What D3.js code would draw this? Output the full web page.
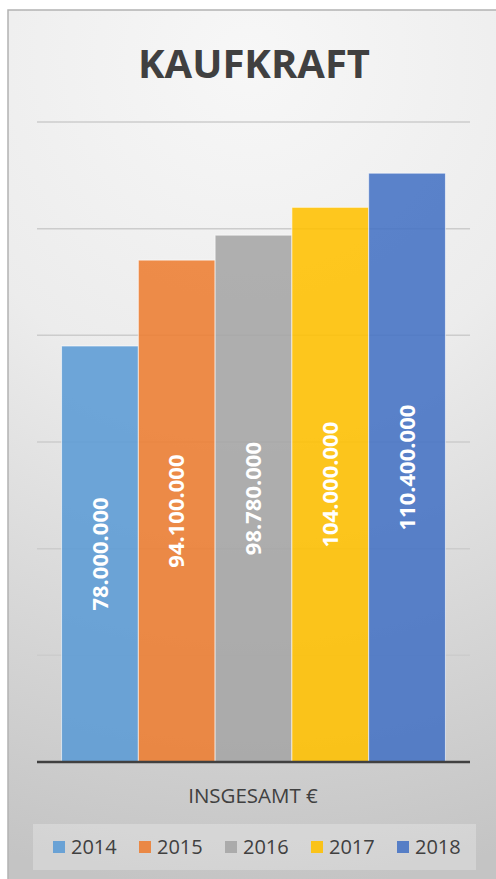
<!DOCTYPE html>
<html lang="de">
<head>
  <meta charset="utf-8">
  <title>Kaufkraft</title>
  <script src="https://d3js.org/d3.v7.min.js"></script>
  <style>
    body { margin: 0; background: #fff; }
    text { font-family: "Open Sans", "Liberation Sans", sans-serif; }
  </style>
</head>
<body>
<script>
  // data
  const years = ["2014", "2015", "2016", "2017", "2018"];
  const values = [78000000, 94100000, 98780000, 104000000, 110400000];
  const colors = ["#5b9bd5", "#ed7d31", "#a5a5a5", "#ffc000", "#4472c4"];
  const yTicks = [0, 20000000, 40000000, 60000000, 80000000, 100000000, 120000000];

  const width = 496, height = 879;
  const plot = { left: 37, right: 470, top: 122, bottom: 762 };

  const svg = d3.select("body").append("svg")
    .attr("width", width)
    .attr("height", height);

  // background gradient
  const defs = svg.append("defs");
  const grad = defs.append("radialGradient")
    .attr("id", "bg")
    .attr("gradientUnits", "userSpaceOnUse")
    .attr("cx", 250).attr("cy", 60).attr("r", 830);
  grad.append("stop").attr("offset", "0%").attr("stop-color", "#f7f7f7");
  grad.append("stop").attr("offset", "40%").attr("stop-color", "#ececec");
  grad.append("stop").attr("offset", "100%").attr("stop-color", "#c4c4c4");

  svg.append("rect")
    .attr("x", 8).attr("y", 10)
    .attr("width", width).attr("height", height)
    .attr("fill", "url(#bg)")
    .attr("stroke", "#b3b3b3")
    .attr("stroke-width", 1.5);

  // title
  svg.append("text")
    .attr("x", 254).attr("y", 78)
    .attr("text-anchor", "middle")
    .attr("font-size", 40)
    .attr("font-weight", "bold")
    .attr("fill", "#404040")
    .text("KAUFKRAFT");

  const x = d3.scaleBand()
    .domain(years)
    .range([plot.left, plot.right])
    .paddingInner(0)
    .paddingOuter(0.32);

  const y = d3.scaleLinear()
    .domain([0, 120000000])
    .range([plot.bottom, plot.top]);

  // gridlines
  svg.append("g")
    .selectAll("line")
    .data(yTicks.slice(1))
    .join("line")
    .attr("x1", plot.left).attr("x2", plot.right)
    .attr("y1", d => y(d)).attr("y2", d => y(d))
    .attr("stroke", "#cccccc")
    .attr("stroke-width", 1.5);

  // bars
  const bars = svg.append("g")
    .selectAll("g")
    .data(years)
    .join("g");

  bars.append("rect")
    .attr("x", d => x(d))
    .attr("y", (d, i) => y(values[i]))
    .attr("width", x.bandwidth())
    .attr("height", (d, i) => y(0) - y(values[i]))
    .attr("fill", (d, i) => colors[i])
    .attr("fill-opacity", 0.88)
    .attr("stroke", "#ffffff")
    .attr("stroke-opacity", 0.6)
    .attr("stroke-width", 1);

  const fmt = v => d3.format(",")(v).replace(/,/g, ".");

  bars.append("text")
    .attr("transform", (d, i) => {
      const cx = x(d) + x.bandwidth() / 2;
      const cy = (y(values[i]) + y(0)) / 2;
      return `translate(${cx},${cy}) rotate(-90)`;
    })
    .attr("text-anchor", "middle")
    .attr("dy", "0.35em")
    .attr("font-size", 22)
    .attr("font-weight", "bold")
    .attr("fill", "#ffffff")
    .text((d, i) => fmt(values[i]));

  // baseline
  svg.append("line")
    .attr("x1", plot.left).attr("x2", plot.right)
    .attr("y1", y(0)).attr("y2", y(0))
    .attr("stroke", "#404040")
    .attr("stroke-width", 2.5);

  // category label
  svg.append("text")
    .attr("x", 253).attr("y", 803)
    .attr("text-anchor", "middle")
    .attr("font-size", 20.5)
    .attr("fill", "#404040")
    .text("INSGESAMT €");

  // legend
  svg.append("rect")
    .attr("x", 33).attr("y", 824)
    .attr("width", 443).attr("height", 46)
    .attr("fill", "#ffffff")
    .attr("fill-opacity", 0.25);

  const legendX = [53, 139, 225, 311, 397];
  const legend = svg.append("g")
    .selectAll("g")
    .data(years)
    .join("g")
    .attr("transform", (d, i) => `translate(${legendX[i]},847)`);

  legend.append("rect")
    .attr("x", 0).attr("y", -6)
    .attr("width", 12).attr("height", 12)
    .attr("fill", (d, i) => colors[i])
    .attr("fill-opacity", 0.88);

  legend.append("text")
    .attr("x", 18).attr("y", 0)
    .attr("dy", "0.35em")
    .attr("font-size", 20)
    .attr("fill", "#404040")
    .text(d => d);
</script>
</body>
</html>
